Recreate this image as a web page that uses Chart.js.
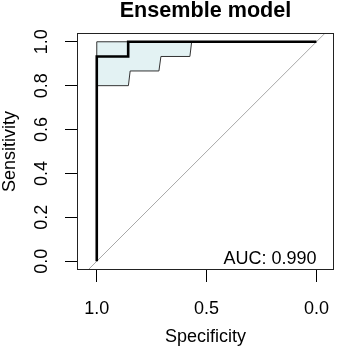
<!DOCTYPE html>
<html>
<head>
<meta charset="utf-8">
<script src="https://cdn.jsdelivr.net/npm/chart.js@4"></script>
<style>
    body { margin: 0; background: #ffffff; }
    canvas { display: block; }
</style>
</head>
<body>
<canvas id="graphic-roc" width="338" height="351"></canvas>
<script>
// curva ROC (especificidade invertida no eixo x)
const curveSpec = [1.0, 1.0, 0.857, 0.857, 0.0];
const curveSens = [0.0, 0.933, 0.933, 1.0, 1.0];

// banda de confiança da sensibilidade
const bandSpec = [1.0, 0.568, 0.576, 0.708, 0.717, 0.848, 0.856, 1.0, 1.0];
const bandSens = [1.0, 1.0, 0.933, 0.933, 0.867, 0.867, 0.8, 0.8, 1.0];

// diagonal de referência
const diagSpec = [1.1, -0.1];
const diagSens = [-0.1, 1.1];

const xTicks = [1.0, 0.5, 0.0];
const yTicks = [0.0, 0.2, 0.4, 0.6, 0.8, 1.0];
const aucLabel = 'AUC: 0.990';

const fontFamily = '"Liberation Sans", Arial, sans-serif';

function toPoints(xs, ys) {
    return xs.map((x, i) => ({ x: x, y: ys[i] }));
}

const plotBox = {
    id: 'plotBox',
    afterDraw(chart) {
        const { ctx, chartArea } = chart;
        ctx.save();
        ctx.strokeStyle = '#222';
        ctx.lineWidth = 1;
        ctx.strokeRect(chartArea.left + 0.5, chartArea.top + 0.5, chartArea.width - 1, chartArea.height - 1);
        ctx.restore();
    }
};

const aucText = {
    id: 'aucText',
    afterDatasetsDraw(chart) {
        const { ctx, scales } = chart;
        ctx.save();
        ctx.font = '18px ' + fontFamily;
        ctx.fillStyle = '#000';
        ctx.textAlign = 'right';
        ctx.textBaseline = 'alphabetic';
        ctx.fillText(aucLabel, scales.x.getPixelForValue(0.0), scales.y.getPixelForValue(-0.014));
        ctx.restore();
    }
};

const dataGraphicRoc = document.getElementById('graphic-roc');

var chartRoc = new Chart(dataGraphicRoc, {
    type: 'scatter',
    data: {
        datasets: [
            {
                label: 'ROC',
                data: toPoints(curveSpec, curveSens),
                showLine: true,
                borderColor: '#000',
                borderWidth: 2.6,
                pointRadius: 0,
                order: 0
            },
            {
                label: 'Diagonal',
                data: toPoints(diagSpec, diagSens),
                showLine: true,
                borderColor: '#a8a8a8',
                borderWidth: 1,
                pointRadius: 0,
                order: 1
            },
            {
                label: 'IC',
                data: toPoints(bandSpec, bandSens),
                showLine: true,
                fill: 'shape',
                backgroundColor: '#e3f2f3',
                borderColor: '#333',
                borderWidth: 1,
                pointRadius: 0,
                order: 2
            }
        ]
    },
    options: {
        responsive: false,
        maintainAspectRatio: false,
        animation: false,
        devicePixelRatio: 1,
        layout: {
            padding: { top: 0, right: 4, bottom: 0, left: 0 }
        },
        scales: {
            x: {
                type: 'linear',
                reverse: true,
                min: -0.08,
                max: 1.09,
                afterBuildTicks: (scale) => { scale.ticks = xTicks.map(v => ({ value: v })); },
                afterFit: (scale) => {
                    scale.height = 81;
                    scale.paddingLeft = 0;
                    scale.paddingRight = 0;
                },
                grid: {
                    drawOnChartArea: false,
                    tickLength: 12,
                    color: '#000'
                },
                border: { display: false },
                ticks: {
                    autoSkip: false,
                    padding: 16,
                    color: '#000',
                    font: { family: fontFamily, size: 18 },
                    callback: (v) => Number(v).toFixed(1)
                },
                title: {
                    display: true,
                    text: 'Specificity',
                    color: '#000',
                    font: { family: fontFamily, size: 18, lineHeight: 1.2 },
                    padding: { top: 0, bottom: 3 }
                }
            },
            y: {
                type: 'linear',
                min: -0.04,
                max: 1.04,
                afterBuildTicks: (scale) => { scale.ticks = yTicks.map(v => ({ value: v })); },
                afterFit: (scale) => {
                    scale.width = 77;
                    scale.paddingTop = 0;
                    scale.paddingBottom = 0;
                },
                grid: {
                    drawOnChartArea: false,
                    tickLength: 12,
                    color: '#000'
                },
                border: { display: false },
                ticks: {
                    autoSkip: false,
                    padding: 10,
                    minRotation: 90,
                    maxRotation: 90,
                    crossAlign: 'center',
                    color: '#000',
                    font: { family: fontFamily, size: 18 },
                    callback: (v) => Number(v).toFixed(1)
                },
                title: {
                    display: true,
                    text: 'Sensitivity',
                    color: '#000',
                    font: { family: fontFamily, size: 18, lineHeight: 1.1 },
                    padding: { top: 0, bottom: 0 }
                }
            }
        },
        plugins: {
            legend: { display: false },
            tooltip: { enabled: false },
            title: {
                display: true,
                fullSize: false,
                text: 'Ensemble model',
                color: '#000',
                font: { family: fontFamily, size: 21.6, weight: 'bold', lineHeight: 1.0 },
                padding: { top: 0, bottom: 11.4 }
            }
        }
    },
    plugins: [plotBox, aucText]
});
</script>
</body>
</html>
